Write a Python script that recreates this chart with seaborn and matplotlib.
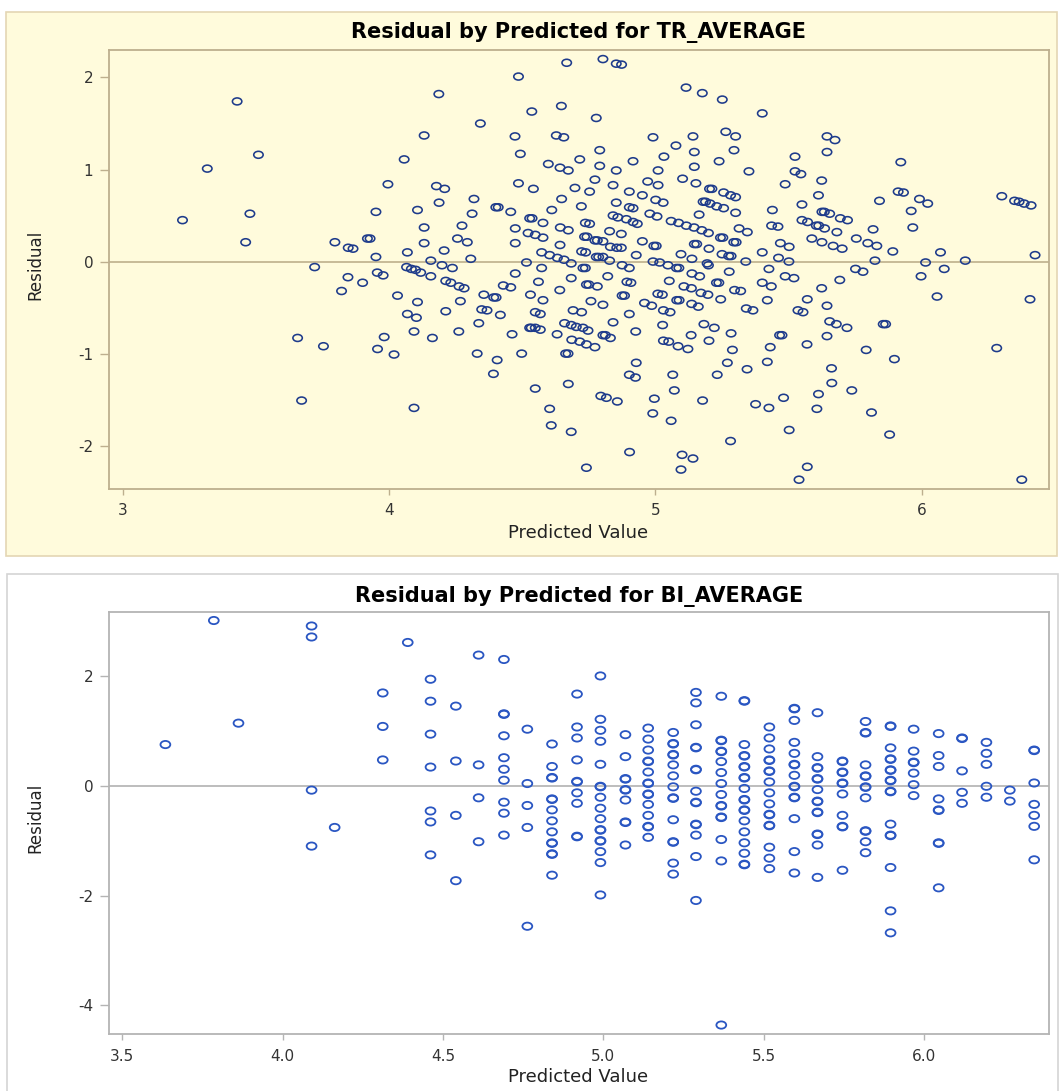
import matplotlib
matplotlib.use("Agg")
import numpy as np
import pandas as pd
import matplotlib.pyplot as plt
import seaborn as sns
from matplotlib.path import Path
from matplotlib.transforms import Affine2D
from matplotlib.patches import Rectangle
from matplotlib.ticker import FormatStrFormatter

sns.set_style("white")
plt.rcParams["font.family"] = ["DejaVu Sans"]
plt.rcParams["axes.unicode_minus"] = False

# TR_AVERAGE: predicted value / residual pairs
tr_predicted = [
    3.225, 3.318, 3.430, 3.478, 3.510, 3.462, 3.721, 3.797, 3.847,
    3.865, 3.919, 3.929, 3.846, 3.901, 3.822, 3.657, 3.754, 3.672,
    4.667, 4.803, 4.853, 4.873, 4.486, 4.187, 4.647, 4.536, 4.778, 4.343,
    4.132, 4.473, 4.628, 4.656, 4.493, 4.791, 4.057, 4.716, 4.598, 4.642,
    4.673, 4.791, 4.853, 4.916, 3.996, 4.486, 4.542, 4.178, 4.209, 4.698,
    4.773, 4.841, 4.902, 4.319, 4.188, 4.648, 4.753, 4.853, 3.951, 4.107,
    4.401, 4.410, 4.457, 4.611, 4.722, 4.902, 4.916, 4.312,
    4.528, 4.537, 4.578, 4.841, 4.859, 4.891, 4.916, 4.932,
    4.274, 4.132, 4.474, 4.643, 4.673, 4.737, 4.753, 4.828, 4.872, 4.522,
    4.549, 4.578, 4.257, 4.294, 4.132, 4.474, 4.642,
    4.734, 4.743, 4.773, 4.782, 4.803, 4.831, 4.855, 4.872,
    4.069, 4.207, 3.951, 4.307, 4.157, 4.573, 4.603, 4.632, 4.657, 4.684,
    4.723, 4.738, 4.778, 4.787, 4.803, 4.828, 4.928,
    4.199, 4.238, 4.516, 4.573, 4.728, 4.737, 4.875, 4.902,
    4.066, 4.084, 4.100, 4.119, 4.157, 3.956, 3.978, 4.474, 4.684, 4.821,
    4.893, 4.908, 4.213, 4.232, 4.263, 4.282, 4.561, 4.429, 4.457,
    4.741, 4.750, 4.782, 4.032, 4.107, 4.268, 4.356,
    4.393, 4.402, 4.531, 4.578, 4.641, 4.758, 4.803,
    4.875, 4.884, 4.902, 4.069, 4.103, 4.213, 4.348, 4.368, 4.418,
    4.549, 4.568, 4.691, 4.723, 4.841, 3.982, 4.094, 4.163, 4.262, 4.337, 4.462,
    4.528, 4.534, 4.549, 4.568, 4.631, 4.659, 4.684, 4.703, 4.728, 4.747,
    4.686, 4.716, 4.741, 4.773, 4.803, 4.812, 4.831, 4.926,
    3.957, 4.019, 4.331, 4.406, 4.498, 4.663, 4.672,
    4.392, 4.673, 4.902, 4.925, 4.928, 4.549, 4.795, 4.816,
    4.857, 4.094, 4.603, 4.609, 4.684, 4.903, 4.741,
    5.115, 5.176, 5.251, 5.401, 4.991, 5.141, 5.264, 5.301, 5.644, 5.674,
    5.921, 5.077, 5.146, 5.295, 5.032, 5.239, 5.524, 5.644, 5.010, 5.146,
    5.351, 5.524, 5.546, 5.624, 5.487, 4.971, 5.010, 5.102, 5.152,
    5.203, 5.212, 5.256, 5.282, 5.301, 5.911, 5.931, 5.841, 5.991, 6.022,
    4.951, 5.001, 5.029, 5.179, 5.188, 5.205, 5.230, 5.256, 5.439,
    5.612, 5.550, 5.625, 5.634, 5.654, 5.694, 5.721, 5.960,
    4.979, 5.006, 5.164, 5.301, 5.059, 5.087, 5.116, 5.145, 5.174, 5.199,
    5.314, 5.345, 5.436, 5.460, 5.550, 5.571, 5.604, 5.613,
    5.635, 5.681, 5.817, 5.966, 4.951, 4.994, 5.003,
    5.146, 5.155, 5.201, 5.244, 5.253, 5.294, 5.303,
    5.469, 5.502, 5.587, 5.625, 5.667, 5.701, 5.754, 5.797, 5.831, 5.891,
    5.096, 5.137, 5.194, 5.250, 5.275, 5.284,
    5.401, 5.462, 5.501, 5.339, 5.824, 6.014, 4.991, 5.016, 5.047,
    5.079, 5.088, 5.199, 5.137, 5.166, 5.277, 5.229, 5.238,
    5.426, 5.487, 5.520, 5.751, 5.779, 5.692, 5.997, 5.052, 5.107, 5.135,
    5.171, 5.197, 5.297, 5.320, 5.401, 5.435, 5.624, 5.009, 5.026,
    5.080, 5.089, 5.136, 5.161, 5.245, 5.420, 5.570, 5.644, 4.959,
    4.986, 5.030, 5.055, 5.341, 5.366, 5.535, 5.554, 5.654, 5.679, 5.719,
    5.855, 5.864, 5.027, 5.182, 5.221, 5.284, 5.466, 5.475,
    5.134, 5.201, 5.030, 5.050, 5.085, 5.122, 5.644, 5.569, 5.431, 5.791,
    5.897, 5.289, 5.270, 5.420, 5.344, 5.232, 5.661, 5.065, 5.071, 5.662,
    5.737, 4.996, 5.177, 5.481, 5.612, 4.990, 5.059, 5.376, 5.426, 5.606,
    5.811, 5.502, 5.879, 5.282, 5.100, 5.141, 5.096, 5.570, 5.539,
    6.300, 6.348, 6.365, 6.384, 6.410, 6.425, 6.163, 6.084, 6.070, 6.057,
    6.406, 6.281, 6.375,
]
tr_residual = [
    0.45, 1.01, 1.74, 0.52, 1.16, 0.21, -0.06, 0.21, 0.15,
    0.14, 0.25, 0.25, -0.17, -0.23, -0.32, -0.83, -0.92, -1.51,
    2.16, 2.20, 2.15, 2.14, 2.01, 1.82, 1.69, 1.63, 1.56, 1.50,
    1.37, 1.36, 1.37, 1.35, 1.17, 1.21, 1.11, 1.11, 1.06, 1.02,
    0.99, 1.04, 0.99, 1.09, 0.84, 0.85, 0.79, 0.82, 0.79, 0.80,
    0.89, 0.83, 0.76, 0.68, 0.64, 0.68, 0.76, 0.64, 0.54, 0.56,
    0.59, 0.59, 0.54, 0.56, 0.60, 0.59, 0.58, 0.52,
    0.47, 0.47, 0.42, 0.50, 0.48, 0.46, 0.43, 0.41,
    0.39, 0.37, 0.36, 0.37, 0.34, 0.42, 0.41, 0.33, 0.30, 0.31,
    0.29, 0.26, 0.25, 0.21, 0.20, 0.20, 0.18,
    0.27, 0.27, 0.23, 0.23, 0.22, 0.16, 0.15, 0.15,
    0.10, 0.12, 0.05, 0.03, 0.01, 0.10, 0.07, 0.04, 0.02, -0.02,
    0.11, 0.10, 0.05, 0.05, 0.05, 0.01, 0.07,
    -0.04, -0.07, -0.01, -0.07, -0.07, -0.07, -0.04, -0.07,
    -0.06, -0.08, -0.09, -0.12, -0.16, -0.12, -0.15, -0.13, -0.18, -0.16,
    -0.22, -0.23, -0.21, -0.23, -0.27, -0.29, -0.22, -0.26, -0.28,
    -0.25, -0.25, -0.27, -0.37, -0.44, -0.43, -0.36,
    -0.39, -0.39, -0.36, -0.42, -0.31, -0.43, -0.47,
    -0.37, -0.37, -0.57, -0.57, -0.61, -0.54, -0.52, -0.53, -0.58,
    -0.55, -0.57, -0.53, -0.55, -0.66, -0.82, -0.76, -0.83, -0.76, -0.67, -0.79,
    -0.72, -0.72, -0.72, -0.74, -0.79, -0.67, -0.69, -0.71, -0.72, -0.75,
    -0.85, -0.87, -0.90, -0.93, -0.80, -0.80, -0.83, -0.76,
    -0.95, -1.01, -1.00, -1.07, -1.00, -1.00, -1.00,
    -1.22, -1.33, -1.23, -1.26, -1.10, -1.38, -1.46, -1.48,
    -1.52, -1.59, -1.60, -1.78, -1.85, -2.07, -2.24,
    1.89, 1.83, 1.76, 1.61, 1.35, 1.36, 1.41, 1.36, 1.36, 1.32,
    1.08, 1.26, 1.19, 1.21, 1.14, 1.09, 1.14, 1.19, 0.99, 1.03,
    0.98, 0.98, 0.95, 0.88, 0.84, 0.87, 0.83, 0.90, 0.85,
    0.79, 0.79, 0.75, 0.72, 0.70, 0.76, 0.75, 0.66, 0.68, 0.63,
    0.72, 0.67, 0.64, 0.65, 0.65, 0.63, 0.60, 0.58, 0.56,
    0.72, 0.62, 0.54, 0.54, 0.52, 0.47, 0.45, 0.55,
    0.52, 0.49, 0.51, 0.53, 0.44, 0.42, 0.39, 0.37, 0.34, 0.31,
    0.36, 0.32, 0.39, 0.38, 0.45, 0.43, 0.39, 0.39,
    0.36, 0.32, 0.35, 0.37, 0.22, 0.17, 0.17,
    0.19, 0.19, 0.14, 0.26, 0.26, 0.21, 0.21,
    0.20, 0.16, 0.25, 0.21, 0.17, 0.14, 0.25, 0.20, 0.17, 0.11,
    0.08, 0.03, -0.02, 0.08, 0.06, 0.06,
    0.10, 0.04, 0.00, 0.00, 0.01, -0.01, 0.00, -0.01, -0.04,
    -0.07, -0.07, -0.04, -0.13, -0.16, -0.11, -0.23, -0.23,
    -0.08, -0.16, -0.18, -0.08, -0.11, -0.20, -0.16, -0.21, -0.27, -0.29,
    -0.34, -0.36, -0.31, -0.32, -0.23, -0.27, -0.29, -0.35, -0.36,
    -0.42, -0.42, -0.46, -0.49, -0.41, -0.42, -0.41, -0.48, -0.45,
    -0.48, -0.53, -0.55, -0.51, -0.53, -0.53, -0.55, -0.65, -0.68, -0.72,
    -0.68, -0.68, -0.69, -0.68, -0.72, -0.78, -0.80, -0.80,
    -0.80, -0.86, -0.86, -0.87, -0.92, -0.95, -0.81, -0.90, -0.93, -0.96,
    -1.06, -0.96, -1.10, -1.09, -1.17, -1.23, -1.16, -1.23, -1.40, -1.32,
    -1.40, -1.49, -1.51, -1.48, -1.44, -1.65, -1.73, -1.55, -1.59, -1.60,
    -1.64, -1.83, -1.88, -1.95, -2.10, -2.14, -2.26, -2.23, -2.37,
    0.71, 0.66, 0.65, 0.63, 0.61, 0.07, 0.01, -0.08, 0.10, -0.38,
    -0.41, -0.94, -2.37,
]
assert len(tr_predicted) == len(tr_residual)

# BI_AVERAGE: predicted values come in discrete levels, residuals per level
bi_levels = [3.634, 3.785, 3.862, 4.090, 4.162, 4.312, 4.390, 4.461, 4.540,
             4.611, 4.690, 4.763, 4.840, 4.918, 4.991, 5.069, 5.140, 5.218,
             5.289, 5.368, 5.440, 5.518, 5.596, 5.668, 5.746, 5.818, 5.896,
             5.968, 6.046, 6.119, 6.195, 6.268, 6.344]
bi_residuals = [
    [0.75],
    [3.01],
    [1.14],
    [2.91, 2.71, -0.08, -1.10],
    [-0.76],
    [1.69, 1.08, 0.47],
    [2.61],
    [1.94, 1.54, 0.94, 0.34, -0.46, -0.66, -1.26],
    [1.45, 0.45, -0.54, -1.73],
    [2.38, 0.38, -0.22, -1.02],
    [2.30, 1.31, 1.30, 0.91, 0.51, 0.30, 0.10, -0.30, -0.50, -0.90],
    [1.03, 0.04, -0.36, -0.76, -2.56],
    [0.76, 0.35, 0.15, 0.14, -0.24, -0.25, -0.44, -0.64, -0.84, -1.04,
     -1.05, -1.24, -1.25, -1.63],
    [1.67, 1.07, 0.87, 0.47, 0.08, 0.07, -0.13, -0.32, -0.92, -0.93],
    [2.00, 1.21, 1.01, 0.81, 0.39, -0.01, -0.02, -0.21, -0.41, -0.60,
     -0.80, -0.81, -1.00, -1.01, -1.20, -1.40, -1.99],
    [0.93, 0.53, 0.13, 0.12, -0.07, -0.08, -0.26, -0.66, -0.67, -1.08],
    [1.05, 0.85, 0.65, 0.45, 0.44, 0.25, 0.05, 0.04, -0.15, -0.16, -0.34,
     -0.54, -0.74, -0.75, -0.94],
    [0.97, 0.77, 0.76, 0.57, 0.56, 0.38, 0.18, -0.02, -0.22, -0.23, -0.62,
     -1.02, -1.03, -1.41, -1.61],
    [1.70, 1.51, 1.11, 0.70, 0.69, 0.30, 0.29, -0.10, -0.30, -0.31, -0.70,
     -0.71, -0.90, -1.29, -2.09],
    [1.63, 0.83, 0.82, 0.63, 0.62, 0.44, 0.24, 0.04, -0.16, -0.36, -0.37,
     -0.57, -0.58, -0.98, -1.37, -4.36],
    [1.55, 1.54, 0.75, 0.55, 0.54, 0.35, 0.34, 0.15, 0.14, -0.05, -0.25,
     -0.26, -0.44, -0.45, -0.64, -0.84, -1.04, -1.23, -1.43, -1.44],
    [1.07, 0.87, 0.67, 0.47, 0.46, 0.27, 0.26, 0.07, -0.13, -0.33, -0.52,
     -0.53, -0.72, -0.73, -1.12, -1.32, -1.51],
    [1.41, 1.40, 1.19, 0.79, 0.59, 0.39, 0.38, 0.19, -0.01, -0.02, -0.21,
     -0.22, -0.60, -1.20, -1.59],
    [1.33, 0.53, 0.33, 0.32, 0.13, 0.12, -0.07, -0.28, -0.29, -0.48, -0.49,
     -0.88, -0.89, -1.08, -1.67],
    [0.45, 0.44, 0.25, 0.24, 0.05, 0.04, -0.15, -0.54, -0.74, -0.75, -1.54],
    [1.17, 0.97, 0.96, 0.38, 0.18, 0.17, -0.02, -0.03, -0.22, -0.82, -0.83,
     -1.02, -1.22],
    [1.09, 1.08, 0.69, 0.49, 0.48, 0.29, 0.28, 0.10, 0.09, -0.10, -0.11,
     -0.70, -0.90, -0.91, -1.49, -2.28, -2.68],
    [1.03, 0.63, 0.43, 0.42, 0.23, 0.02, -0.18],
    [0.95, 0.55, 0.35, -0.24, -0.44, -0.45, -1.04, -1.05, -1.86],
    [0.87, 0.86, 0.27, -0.12, -0.32],
    [0.79, 0.59, 0.39, -0.01, -0.21],
    [-0.08, -0.28],
    [0.65, 0.64, 0.05, -0.34, -0.54, -0.74, -1.35],
]

tr = pd.DataFrame({"Predicted": tr_predicted, "Residual": tr_residual})
bi = pd.DataFrame({"Predicted": bi_levels, "Residual": bi_residuals}).explode("Residual")
bi["Residual"] = bi["Residual"].astype(float)

# slightly flattened ring, like the SAS "circle" symbol
ring = Path.unit_circle().transformed(Affine2D().scale(1.0, 0.74))

fig = plt.figure(figsize=(10.59, 10.91), dpi=100)
fig.patch.set_facecolor("white")

# panel backgrounds (kept behind the axes)
fig.patches.append(Rectangle((0.0057, 0.4904), 0.9924, 0.4986, transform=fig.transFigure,
                             facecolor="#FFFBDC", edgecolor="#E4D6B4", linewidth=1.2, zorder=-10))
fig.patches.append(Rectangle((0.0066, -0.02), 0.9924, 0.4939, transform=fig.transFigure,
                             facecolor="white", edgecolor="#D4D4D4", linewidth=1.2, zorder=-10))

ax1 = fig.add_axes([0.1029, 0.5518, 0.8876, 0.4024])
ax2 = fig.add_axes([0.1029, 0.0520, 0.8876, 0.3873])

# top panel
ax1.set_facecolor("#FFFBDC")
ax1.axhline(0, color="#B8A985", linewidth=1.1, zorder=1)
sns.scatterplot(data=tr, x="Predicted", y="Residual", ax=ax1, marker=ring, s=46,
                facecolor="none", edgecolor="#1E3B8B", linewidth=1.15, legend=False, zorder=3)
ax1.set_xlim(2.949, 6.477)
ax1.set_ylim(-2.471, 2.299)
ax1.set_xticks([3, 4, 5, 6])
ax1.set_yticks([-2, -1, 0, 1, 2])
for sp in ax1.spines.values():
    sp.set_color("#BDAF8E")
    sp.set_linewidth(1.3)

# bottom panel
ax2.set_facecolor("white")
ax2.axhline(0, color="#ABABAB", linewidth=1.1, zorder=1)
sns.scatterplot(data=bi, x="Predicted", y="Residual", ax=ax2, marker=ring, s=50,
                facecolor="none", edgecolor="#2A56C2", linewidth=1.3, legend=False, zorder=3)
ax2.set_xlim(3.458, 6.39)
ax2.set_ylim(-4.528, 3.17)
ax2.set_xticks([3.5, 4.0, 4.5, 5.0, 5.5, 6.0])
ax2.xaxis.set_major_formatter(FormatStrFormatter("%.1f"))
ax2.set_yticks([-4, -2, 0, 2])
for sp in ax2.spines.values():
    sp.set_color("#B4B4B4")
    sp.set_linewidth(1.3)

for ax, tc in [(ax1, "#BDAF8E"), (ax2, "#B4B4B4")]:
    ax.set_xlabel("")
    ax.set_ylabel("")
    ax.tick_params(axis="x", direction="out", length=4.3, width=1.0, pad=6,
                   color=tc, labelsize=11, labelcolor="#333333", bottom=True)
    ax.tick_params(axis="y", direction="out", length=6.3, width=1.0, pad=5,
                   color=tc, labelsize=11, labelcolor="#333333", left=True)

# titles and axis labels
fig.text(0.5467, 0.9698, "Residual by Predicted for TR_AVERAGE", ha="center", va="center",
         fontsize=15, fontweight="bold", color="black")
fig.text(0.5467, 0.4531, "Residual by Predicted for BI_AVERAGE", ha="center", va="center",
         fontsize=15, fontweight="bold", color="black")
fig.text(0.5457, 0.5115, "Predicted Value", ha="center", va="center", fontsize=13, color="#222222")
fig.text(0.5457, 0.0131, "Predicted Value", ha="center", va="center", fontsize=13, color="#222222")
fig.text(0.033, 0.757, "Residual", ha="center", va="center", rotation=90, fontsize=12, color="#222222")
fig.text(0.033, 0.2502, "Residual", ha="center", va="center", rotation=90, fontsize=12, color="#222222")

fig.savefig("out.png", dpi=100)
